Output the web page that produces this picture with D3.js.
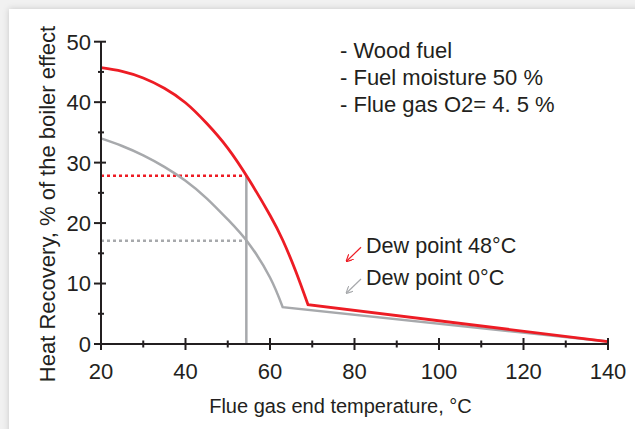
<!DOCTYPE html>
<html>
<head>
<meta charset="utf-8">
<script src="https://cdn.jsdelivr.net/npm/d3@7"></script>
<style>
  html, body { margin: 0; padding: 0; background: #f1f1f1; }
  svg { display: block; font-family: "Liberation Sans", Arial, sans-serif; }
</style>
</head>
<body>
<svg id="chart" width="635" height="429"></svg>
<script>
// values
const temps = [20, 25, 30, 35, 40, 45, 50, 55, 60, 63, 66, 69, 140];
const dew48 = [45.7, 45.1, 44.0, 42.3, 39.9, 36.5, 32.4, 27.2, 21.3, 17.2, 12.2, 6.5, 0.4];
const tempsDew0 = [20, 25, 30, 35, 40, 45, 50, 55, 60, 63, 140];
const dew0 = [34.0, 32.75, 31.2, 29.3, 27.0, 24.1, 20.6, 16.6, 11.0, 6.1, 0.4];
const markTemp = 54.4;
const xTicks = [20, 40, 60, 80, 100, 120, 140];
const xMinor = [30, 50, 70, 90, 110, 130];
const yTicks = [0, 10, 20, 30, 40, 50];
const yMinor = [5, 15, 25, 35, 45];
const notes = ["- Wood fuel", "- Fuel moisture 50 %", "- Flue gas O2= 4. 5 %"];
const legend = [{label: "Dew point 48°C", color: "#ed1c24"}, {label: "Dew point 0°C", color: "#a7a9ac"}];

const svg = d3.select("#chart");
const red = "#ed1c24", grey = "#a7a9ac", ink = "#231f20";

// panel with soft shadow
const defs = svg.append("defs");
const f = defs.append("filter").attr("id", "shadow").attr("x", "-5%").attr("y", "-5%").attr("width", "110%").attr("height", "110%");
f.append("feDropShadow").attr("dx", 0).attr("dy", 0).attr("stdDeviation", 3).attr("flood-color", "#000").attr("flood-opacity", 0.18);
svg.append("rect").attr("x", 9).attr("y", 9).attr("width", 660).attr("height", 460)
    .attr("fill", "#fff").attr("filter", "url(#shadow)");

const x = d3.scaleLinear().domain([20, 140]).range([101, 608]);
const y = d3.scaleLinear().domain([0, 50]).range([344, 41.7]);

const red48 = temps.map((t, i) => [t, dew48[i]]);
const grey0 = tempsDew0.map((t, i) => [t, dew0[i]]);

const curve = d3.line().x(d => x(d[0])).y(d => y(d[1])).curve(d3.curveNatural);
const straight = d3.line().x(d => x(d[0])).y(d => y(d[1]));

function interp(pts, t) {
  for (let i = 1; i < pts.length; i++) {
    if (t <= pts[i][0]) {
      const a = pts[i - 1], b = pts[i];
      return a[1] + (b[1] - a[1]) * (t - a[0]) / (b[0] - a[0]);
    }
  }
}
const redAtMark = interp(red48, markTemp);
const greyAtMark = interp(grey0, markTemp);

// dotted guides and vertical marker
svg.append("line").attr("x1", x(20)).attr("x2", x(markTemp))
    .attr("y1", y(redAtMark)).attr("y2", y(redAtMark))
    .attr("stroke", red).attr("stroke-width", 2.5).attr("stroke-dasharray", "3,3");
svg.append("line").attr("x1", x(20)).attr("x2", x(markTemp))
    .attr("y1", y(greyAtMark)).attr("y2", y(greyAtMark))
    .attr("stroke", grey).attr("stroke-width", 2.5).attr("stroke-dasharray", "3,3");
svg.append("line").attr("x1", x(markTemp)).attr("x2", x(markTemp))
    .attr("y1", y(0)).attr("y2", y(redAtMark))
    .attr("stroke", grey).attr("stroke-width", 2.5);

// grey curve (dew point 0)
svg.append("path").attr("d", curve(grey0.slice(0, -1)) + straight(grey0.slice(-2)).replace("M", "L"))
    .attr("fill", "none").attr("stroke", grey).attr("stroke-width", 2.5).attr("stroke-linejoin", "miter");
// red curve (dew point 48)
svg.append("path").attr("d", curve(red48.slice(0, -1)) + straight(red48.slice(-2)).replace("M", "L"))
    .attr("fill", "none").attr("stroke", red).attr("stroke-width", 2.8).attr("stroke-linejoin", "miter");

// axes
const ax = svg.append("g").attr("stroke", ink).attr("stroke-width", 2);
ax.append("line").attr("x1", x(20)).attr("x2", x(20)).attr("y1", y(0)).attr("y2", y(50));
ax.append("line").attr("x1", x(20)).attr("x2", x(140)).attr("y1", y(0)).attr("y2", y(0));
ax.selectAll(".ym").data(yTicks).join("line")
    .attr("x1", x(20) - 7).attr("x2", x(20) + 5).attr("y1", d => y(d)).attr("y2", d => y(d));
ax.selectAll(".yn").data(yMinor).join("line")
    .attr("x1", x(20) - 3).attr("x2", x(20) + 3).attr("y1", d => y(d)).attr("y2", d => y(d));
ax.selectAll(".xm").data(xTicks).join("line")
    .attr("x1", d => x(d)).attr("x2", d => x(d)).attr("y1", y(0) - 6).attr("y2", y(0) + 6);
ax.selectAll(".xn").data(xMinor).join("line")
    .attr("x1", d => x(d)).attr("x2", d => x(d)).attr("y1", y(0) - 3.5).attr("y2", y(0) + 3.5);

svg.selectAll(".ylab").data(yTicks).join("text")
    .attr("x", 91).attr("y", d => y(d)).attr("dy", "0.36em")
    .attr("text-anchor", "end").attr("font-size", 22).attr("fill", ink)
    .text(d => d);
svg.selectAll(".xlab").data(xTicks).join("text")
    .attr("x", d => x(d)).attr("y", 379)
    .attr("text-anchor", "middle").attr("font-size", 22).attr("fill", ink)
    .text(d => d);

svg.append("text").attr("x", 340.5).attr("y", 413).attr("text-anchor", "middle")
    .attr("font-size", 20).attr("fill", ink).text("Flue gas end temperature, °C");
svg.append("text").attr("transform", "translate(54.5,204) rotate(-90)").attr("text-anchor", "middle")
    .attr("font-size", 22).attr("fill", ink).text("Heat Recovery, % of the boiler effect");

// notes
svg.selectAll(".note").data(notes).join("text")
    .attr("x", 340).attr("y", (d, i) => 58.3 + i * 26.7)
    .attr("font-size", 22).attr("fill", ink).text(d => d);

// legend with small arrows
defs.selectAll("marker").data(legend).join("marker")
    .attr("id", (d, i) => "arr" + i).attr("viewBox", "0 0 10 10").attr("refX", 8).attr("refY", 5)
    .attr("markerWidth", 6).attr("markerHeight", 6).attr("orient", "auto-start-reverse")
    .append("path").attr("d", "M0,0 L10,5 L0,10").attr("fill", "none").attr("stroke", d => d.color).attr("stroke-width", 1.6);
const lg = svg.selectAll(".lg").data(legend).join("g")
    .attr("transform", (d, i) => `translate(366,${253.3 + i * 31.7})`);
lg.append("line").attr("x1", -5).attr("y1", -6).attr("x2", -19).attr("y2", 7.5)
    .attr("stroke", d => d.color).attr("stroke-width", 1.2)
    .attr("marker-end", (d, i) => `url(#arr${i})`);
lg.append("text").attr("font-size", 21.6).attr("fill", ink).text(d => d.label);
</script>
</body>
</html>
